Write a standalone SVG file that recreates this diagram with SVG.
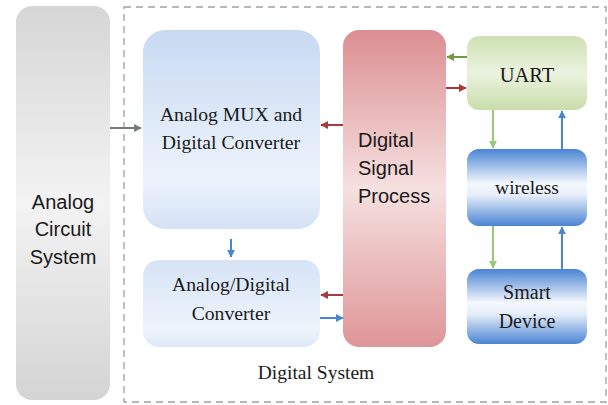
<svg xmlns="http://www.w3.org/2000/svg" width="608" height="405" viewBox="0 0 608 405">
  <defs>
    <linearGradient id="gGray" x1="0" y1="0" x2="0" y2="1">
      <stop offset="0" stop-color="#d6d6d6"/>
      <stop offset="0.5" stop-color="#f3f3f3"/>
      <stop offset="1" stop-color="#d4d4d4"/>
    </linearGradient>
    <linearGradient id="gMux" x1="0" y1="0" x2="0" y2="1">
      <stop offset="0" stop-color="#c8daf2"/>
      <stop offset="0.75" stop-color="#edf3fc"/>
      <stop offset="1" stop-color="#d4e2f5"/>
    </linearGradient>
    <linearGradient id="gAdc" x1="0" y1="0" x2="0" y2="1">
      <stop offset="0" stop-color="#d6e4f6"/>
      <stop offset="0.8" stop-color="#eef4fc"/>
      <stop offset="1" stop-color="#dde8f7"/>
    </linearGradient>
    <linearGradient id="gDsp" x1="0" y1="0" x2="0" y2="1">
      <stop offset="0" stop-color="#dc8e91"/>
      <stop offset="0.5" stop-color="#f6e0e0"/>
      <stop offset="1" stop-color="#df9598"/>
    </linearGradient>
    <linearGradient id="gUart" x1="0" y1="0" x2="0" y2="1">
      <stop offset="0" stop-color="#cfe0b3"/>
      <stop offset="0.5" stop-color="#ebf3df"/>
      <stop offset="1" stop-color="#c9ddab"/>
    </linearGradient>
    <linearGradient id="gBlue" x1="0" y1="0" x2="0" y2="1">
      <stop offset="0" stop-color="#4a84d4"/>
      <stop offset="0.45" stop-color="#f5f8fd"/>
      <stop offset="0.6" stop-color="#e6eefa"/>
      <stop offset="1" stop-color="#4a84d4"/>
    </linearGradient>
    <marker id="mGray" viewBox="0 0 10 10" refX="9" refY="5" markerWidth="8" markerHeight="8" markerUnits="userSpaceOnUse" orient="auto">
      <path d="M0,0 L10,5 L0,10 z" fill="#7a7a7a"/>
    </marker>
    <marker id="mRed" viewBox="0 0 10 10" refX="9" refY="5" markerWidth="8" markerHeight="8" markerUnits="userSpaceOnUse" orient="auto">
      <path d="M0,0 L10,5 L0,10 z" fill="#a83c3c"/>
    </marker>
    <marker id="mGreen" viewBox="0 0 10 10" refX="9" refY="5" markerWidth="8" markerHeight="8" markerUnits="userSpaceOnUse" orient="auto">
      <path d="M0,0 L10,5 L0,10 z" fill="#6e9a3c"/>
    </marker>
    <marker id="mLGreen" viewBox="0 0 10 10" refX="9" refY="5" markerWidth="8" markerHeight="8" markerUnits="userSpaceOnUse" orient="auto">
      <path d="M0,0 L10,5 L0,10 z" fill="#98c878"/>
    </marker>
    <marker id="mBlue" viewBox="0 0 10 10" refX="9" refY="5" markerWidth="8" markerHeight="8" markerUnits="userSpaceOnUse" orient="auto">
      <path d="M0,0 L10,5 L0,10 z" fill="#4a86d0"/>
    </marker>
  </defs>
  <style>
    .serif { font-family: "Liberation Serif", "Times New Roman", serif; fill: #1a1a1a; }
    .sans { font-family: "Liberation Sans", Arial, sans-serif; fill: #1a1a1a; }
    .c { stroke-width: 2; fill: none; }
  </style>

  <rect width="608" height="405" fill="#ffffff"/>

  <!-- dashed frame of the digital system -->
  <rect id="digital-system-frame" x="124" y="7" width="482" height="395" fill="none" stroke="#a0a0a0" stroke-width="1.3" stroke-dasharray="7,5"/>

  <g id="analog-circuit-system">
    <rect x="16" y="6" width="94" height="394" rx="16" fill="url(#gGray)"/>
    <text class="sans" font-size="20" text-anchor="middle" x="63" y="209">Analog</text>
    <text class="sans" font-size="20" text-anchor="middle" x="63" y="236">Circuit</text>
    <text class="sans" font-size="20" text-anchor="middle" x="63" y="264">System</text>
  </g>

  <g id="analog-mux">
    <rect x="143" y="30" width="177" height="199" rx="22" fill="url(#gMux)"/>
    <text class="serif" font-size="19.7" text-anchor="middle" x="231" y="121">Analog MUX and</text>
    <text class="serif" font-size="19.7" text-anchor="middle" x="231" y="149">Digital Converter</text>
  </g>

  <g id="ad-converter">
    <rect x="143" y="260" width="177" height="87" rx="16" fill="url(#gAdc)"/>
    <text class="serif" font-size="19.7" text-anchor="middle" x="231" y="291">Analog/Digital</text>
    <text class="serif" font-size="19.7" text-anchor="middle" x="231" y="320">Converter</text>
  </g>

  <g id="dsp">
    <rect x="343" y="30" width="103" height="317" rx="16" fill="url(#gDsp)"/>
    <text class="sans" font-size="20" x="358" y="147">Digital</text>
    <text class="sans" font-size="20" x="358" y="175">Signal</text>
    <text class="sans" font-size="20" x="358" y="203">Process</text>
  </g>

  <g id="uart">
    <rect x="467" y="36" width="120" height="74" rx="12" fill="url(#gUart)"/>
    <text class="serif" font-size="20.5" text-anchor="middle" x="527" y="82">UART</text>
  </g>

  <g id="wireless">
    <rect x="467" y="149" width="120" height="77" rx="12" fill="url(#gBlue)"/>
    <text class="serif" font-size="19.5" text-anchor="middle" x="527" y="194">wireless</text>
  </g>

  <g id="smart-device">
    <rect x="467" y="269" width="120" height="75" rx="12" fill="url(#gBlue)"/>
    <text class="serif" font-size="20" text-anchor="middle" x="527" y="299">Smart</text>
    <text class="serif" font-size="20" text-anchor="middle" x="527" y="328">Device</text>
  </g>

  <text id="digital-system-label" class="serif" font-size="19.5" text-anchor="middle" x="316" y="379">Digital System</text>

  <g id="connectors">
    <line class="c" x1="110" y1="128" x2="141" y2="128" stroke="#7a7a7a" marker-end="url(#mGray)"/>
    <line class="c" x1="343" y1="125" x2="321" y2="125" stroke="#a83c3c" marker-end="url(#mRed)"/>
    <line class="c" x1="231" y1="239" x2="231" y2="257" stroke="#4a86d0" marker-end="url(#mBlue)"/>
    <line class="c" x1="343" y1="295" x2="321" y2="295" stroke="#a83c3c" marker-end="url(#mRed)"/>
    <line class="c" x1="320" y1="318" x2="343" y2="318" stroke="#4a86d0" marker-end="url(#mBlue)"/>
    <line class="c" x1="467" y1="57" x2="447" y2="57" stroke="#6e9a3c" marker-end="url(#mGreen)"/>
    <line class="c" x1="446" y1="88" x2="466" y2="88" stroke="#a83c3c" marker-end="url(#mRed)"/>
    <line class="c" x1="493" y1="110" x2="493" y2="148" stroke="#98c878" marker-end="url(#mLGreen)"/>
    <line class="c" x1="562" y1="149" x2="562" y2="111" stroke="#4a86d0" marker-end="url(#mBlue)"/>
    <line class="c" x1="493" y1="226" x2="493" y2="268" stroke="#98c878" marker-end="url(#mLGreen)"/>
    <line class="c" x1="562" y1="269" x2="562" y2="227" stroke="#4a86d0" marker-end="url(#mBlue)"/>
  </g>
</svg>
